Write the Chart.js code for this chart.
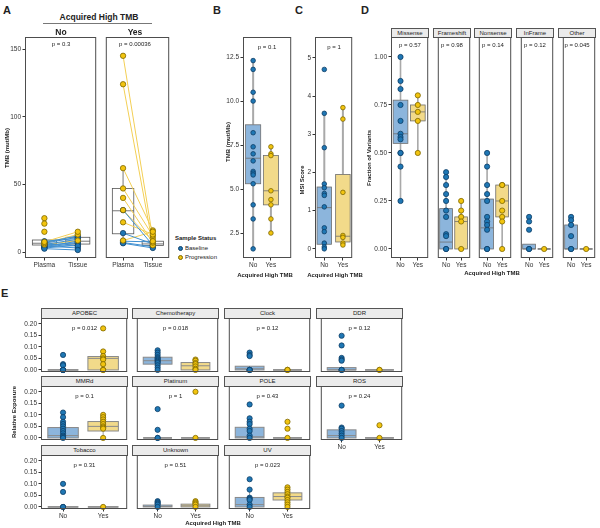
<!DOCTYPE html>
<html>
<head>
<meta charset="utf-8">
<script src="https://cdn.jsdelivr.net/npm/chart.js@4.4.0/dist/chart.umd.min.js"></script>
<style>
  body { margin: 0; background: #fff; }
  #root { position: relative; width: 600px; height: 528px; overflow: hidden; font-family: 'Liberation Sans', Arial, sans-serif; color: #222; }
  canvas { position: absolute; }
  .t { position: absolute; white-space: nowrap; line-height: 1; }
  .c { transform: translate(-50%, -50%); }
  .rot { transform: translate(-50%, -50%) rotate(-90deg); }
  .strip { position: absolute; box-sizing: border-box; background: #ebebeb; border: 1px solid #555; font-size: 6px; text-align: center; color: #222; }
</style>
</head>
<body>
<div id="root"></div>
<script>
// ---- data ----
const groups = ['No', 'Yes'];
const sampleTypes = ['Plasma', 'Tissue'];

// A: paired TMB, plasma -> tissue, status B = Baseline, P = Progression
const aNoPlasma = [3.0, 3.5, 4.0, 4.5, 5.0, 5.5, 6.0, 6.5, 7.0, 2.5, 8.0, 5.5, 6.5, 7.5, 25, 21, 15];
const aNoTissue = [5.0, 6.5, 8.0, 3.0, 7.0, 9.5, 4.5, 11, 12, 1.5, 10, 8.5, 13, 15, null, null, null];
const aNoStatus = ['B', 'B', 'B', 'B', 'B', 'B', 'B', 'B', 'B', 'B', 'B', 'P', 'P', 'P', 'P', 'P', 'P'];
const aYesPlasma = [31, 14, 8, 7, 6.5, 145, 124, 62, 47, 40, 31, 22, 8.5];
const aYesTissue = [5, 6, 7.5, 4, 3, 10, 5, 16, 12, 7, 8, 13, 15];
const aYesStatus = ['B', 'B', 'B', 'B', 'B', 'P', 'P', 'P', 'P', 'P', 'P', 'P', 'P'];
// box stats [lo, q1, median, q3, hi] for plasma, tissue
const aNoBox = [[2.5, 5.2, 6.5, 8.9, 8.9], [1.5, 5.9, 8, 10.9, 15]];
const aYesBox = [[6.5, 13.5, 30.5, 47, 62], [3, 4.8, 6, 8, 13]];
const aPvals = ['p = 0.3', 'p = 0.00036'];
const aTicks = [0, 50, 100, 150];
const aTickLabels = ['0', '50', '100', '150'];

// B: TMB by acquired high TMB
const bNo = [12.3, 11.8, 10.5, 10.0, 8.2, 7.4, 7.0, 6.6, 6.0, 5.9, 5.8, 5.3, 4.1, 3.3, 1.6];
const bYes = [7.4, 7.0, 6.9, 4.9, 4.4, 4.1, 3.3, 2.5];
const bBox = [[1.6, 5.3, 6.75, 8.65, 12.3], [2.5, 4.1, 4.9, 6.9, 7.4]];
const bP = 'p = 0.1';
const bTicks = [2.5, 5, 7.5, 10, 12.5];
const bTickLabels = ['2.5', '5.0', '7.5', '10.0', '12.5'];

// C: MSI score
const cNo = [4.7, 3.55, 2.65, 1.7, 1.6, 1.45, 1.4, 1.1, 0.55, 0.45, 0.15, 0.05, 0.0];
const cYes = [3.7, 3.4, 1.48, 0.35, 0.3, 0.15, 0.1];
const cBox = [[0, 0.12, 1.08, 1.62, 3.55], [0.1, 0.18, 0.33, 1.95, 3.7]];
const cP = 'p = 1';
const cTicks = [0, 1, 2, 3, 4, 5];
const cTickLabels = ['0', '1', '2', '3', '4', '5'];

// D: fraction of variants by type
const dTypes = ['Missense', 'Frameshift', 'Nonsense', 'InFrame', 'Other'];
const dPvals = ['p = 0.57', 'p = 0.98', 'p = 0.14', 'p = 0.12', 'p = 0.045'];
const dNo = [
  [1.0, 0.875, 0.833, 0.75, 0.667, 0.6, 0.583, 0.571, 0.5, 0.5, 0.429, 0.25],
  [0.4, 0.375, 0.333, 0.286, 0.25, 0.2, 0.167, 0.077, 0.067, 0, 0],
  [0.5, 0.429, 0.333, 0.286, 0.25, 0.167, 0.143, 0.125, 0.1, 0, 0],
  [0.167, 0.143, 0.1, 0, 0],
  [0.167, 0.15, 0.125, 0.067, 0, 0]
];
const dYes = [
  [0.8, 0.75, 0.714, 0.667, 0.5],
  [0.25, 0.2, 0.167, 0.143, 0],
  [0.333, 0.333, 0.25, 0.2, 0.167, 0.143, 0],
  [0],
  [0]
];
const dBoxNo = [[0.25, 0.55, 0.6, 0.775, 1.0], [0, 0, 0.036, 0.21, 0.4], [0, 0, 0.11, 0.26, 0.5], [0, 0, 0, 0.025, 0.025], [0, 0, 0, 0.125, 0.167]];
const dBoxYes = [[0.5, 0.667, 0.714, 0.75, 0.8], [0, 0, 0.143, 0.167, 0.25], [0, 0.167, 0.25, 0.333, 0.333], [0, 0, 0, 0, 0], [0, 0, 0, 0, 0]];
const dTicks = [0, 0.25, 0.5, 0.75, 1.0];
const dTickLabels = ['0.00', '0.25', '0.50', '0.75', '1.00'];

// E: relative exposure of mutational signatures
const eSigs = ['APOBEC', 'Chemotherapy', 'Clock', 'DDR', 'MMRd', 'Platinum', 'POLE', 'ROS', 'Tobacco', 'Unknown', 'UV'];
const ePvals = ['p = 0.012', 'p = 0.018', 'p = 0.12', 'p = 0.12', 'p = 0.1', 'p = 1', 'p = 0.43', 'p = 0.24', 'p = 0.31', 'p = 0.51', 'p = 0.023'];
const eNo = [
  [0.065, 0.025, 0.02, 0, 0, 0, 0, 0],
  [0.085, 0.075, 0.065, 0.055, 0.05, 0.045, 0.04, 0.035, 0.03, 0.02, 0.01, 0],
  [0.075, 0.065, 0.06, 0, 0, 0, 0],
  [0.148, 0.106, 0.052, 0.045, 0.04, 0, 0, 0],
  [0.11, 0.09, 0.07, 0.06, 0.05, 0.04, 0.03, 0.02, 0.01, 0.005, 0],
  [0.125, 0.035, 0, 0],
  [0.145, 0.085, 0.07, 0.06, 0.04, 0.03, 0.01, 0],
  [0.14, 0.045, 0.04, 0.03, 0.02, 0.01, 0],
  [0.1, 0.065, 0, 0],
  [0.025, 0.02, 0.015, 0.01, 0],
  [0.12, 0.075, 0.04, 0.035, 0.03, 0.01, 0]
];
const eYes = [
  [0.18, 0.08, 0.06, 0.05, 0.045, 0.025, 0, 0],
  [0.045, 0.04, 0.03, 0.025, 0.015, 0.005, 0],
  [0, 0, 0],
  [0, 0],
  [0.1, 0.09, 0.08, 0.07, 0.06, 0.05, 0.045, 0.04, 0],
  [0.2, 0],
  [0.07, 0.04, 0],
  [0.055, 0],
  [0],
  [0.025, 0.02, 0.015, 0.01, 0],
  [0.085, 0.075, 0.065, 0.055, 0.045, 0.04, 0.03, 0.02, 0.01, 0]
];
const eBoxNo = [
  [0, 0, 0, 0, 0], [0, 0.025, 0.04, 0.055, 0.085], [0, 0, 0.005, 0.016, 0.016], [0, 0, 0, 0.01, 0.01],
  [0, 0, 0.01, 0.045, 0.11], [0, 0, 0, 0, 0], [0, 0, 0.005, 0.046, 0.085], [0, 0, 0.01, 0.035, 0.045],
  [0, 0, 0, 0, 0], [0, 0, 0.002, 0.008, 0.02], [0, 0, 0.01, 0.041, 0.075]
];
const eBoxYes = [
  [0, 0, 0.05, 0.058, 0.08], [0, 0, 0.018, 0.032, 0.045], [0, 0, 0, 0, 0], [0, 0, 0, 0, 0],
  [0, 0.03, 0.05, 0.071, 0.1], [0, 0, 0, 0, 0], [0, 0, 0, 0, 0], [0, 0, 0, 0, 0],
  [0, 0, 0, 0, 0], [0, 0, 0.005, 0.012, 0.025], [0, 0.03, 0.045, 0.061, 0.085]
];
const eTicks = [0, 0.05, 0.1, 0.15, 0.2];
const eTickLabels = ['0.00', '0.05', '0.10', '0.15', '0.20'];

// ---- styles ----
const FONT = "'Liberation Sans', Arial, sans-serif";
Chart.defaults.font.family = FONT;
const BLUE = '#1f77b4', BLUE_EDGE = '#0e3d66', YEL = '#f2c40f', YEL_EDGE = '#7d6700';
const BLUE_BOX = '#8cb5dc', YEL_BOX = '#f2da8a';
const root = document.getElementById('root');

function text(x, y, s, css, cls) {
  const d = document.createElement('div');
  d.className = 't ' + (cls || 'c');
  d.style.left = x + 'px';
  d.style.top = y + 'px';
  d.style.cssText += css || '';
  d.textContent = s;
  root.appendChild(d);
  return d;
}

function strip(l, t, w, h, s) {
  const d = document.createElement('div');
  d.className = 'strip';
  d.style.cssText += `left:${l}px;top:${t}px;width:${w}px;height:${h}px;line-height:${h - 2}px;`;
  d.textContent = s;
  root.appendChild(d);
}

// box settings live on the canvas so Chart.js does not resolve them as options
const boxPlugin = {
  id: 'boxes',
  beforeDatasetsDraw(chart) {
    const o = chart.canvas.boxSpec;
    if (!o) return;
    const { ctx, scales: { x, y } } = chart;
    ctx.save();
    o.items.forEach(it => {
      const [lo, q1, med, q3, hi] = it.stats;
      const cx = x.getPixelForValue(it.x);
      const x0 = x.getPixelForValue(it.x - o.width / 2);
      const x1 = x.getPixelForValue(it.x + o.width / 2);
      ctx.strokeStyle = o.whisker;
      ctx.lineWidth = o.whiskerWidth;
      ctx.beginPath();
      ctx.moveTo(cx, y.getPixelForValue(hi)); ctx.lineTo(cx, y.getPixelForValue(q3));
      ctx.moveTo(cx, y.getPixelForValue(q1)); ctx.lineTo(cx, y.getPixelForValue(lo));
      ctx.stroke();
      const top = y.getPixelForValue(q3), bot = y.getPixelForValue(q1);
      if (it.color) { ctx.fillStyle = it.color; ctx.fillRect(x0, top, x1 - x0, bot - top); }
      ctx.strokeStyle = o.edge;
      ctx.lineWidth = o.edgeWidth;
      ctx.strokeRect(x0, top, x1 - x0, bot - top);
      const ym = y.getPixelForValue(med);
      ctx.beginPath(); ctx.moveTo(x0, ym); ctx.lineTo(x1, ym); ctx.stroke();
    });
    ctx.restore();
  },
  afterDraw(chart) {
    const { ctx, chartArea: a } = chart;
    ctx.save();
    ctx.strokeStyle = '#4d4d4d';
    ctx.lineWidth = 1;
    ctx.strokeRect(a.left + 0.5, a.top + 0.5, a.right - a.left - 1, a.bottom - a.top - 1);
    ctx.restore();
  }
};

// one facet = one chart; rect is the plot area [left, top, right, bottom] in page px
function facet(rect, o) {
  const [l, t, r, b] = rect;
  const yW = o.yTicks ? 26 : 0, xH = o.xLabels ? 10 : 0;
  const padT = 6, padR = 4, padB = 5;
  const W = r - l + yW + padR, H = b - t + padT + xH + padB;
  const cv = document.createElement('canvas');
  cv.width = W; cv.height = H;
  cv.style.left = (l - yW) + 'px';
  cv.style.top = (t - padT) + 'px';
  cv.boxSpec = o.boxes;
  root.appendChild(cv);
  const tickFont = { family: FONT, size: 6.5 };
  new Chart(cv, {
    type: 'scatter',
    data: { datasets: o.datasets },
    options: {
      responsive: false, animation: false, devicePixelRatio: 1,
      events: [],
      layout: { padding: { top: padT, right: padR, bottom: padB, left: 0 } },
      plugins: { legend: { display: false }, tooltip: { enabled: false } },
      scales: {
        x: {
          type: 'linear', min: o.xRange[0], max: o.xRange[1],
          border: { display: false },
          grid: { display: !!o.xLabels, drawOnChartArea: false, tickLength: 2.5, color: '#333' },
          ticks: { display: !!o.xLabels, padding: 1, color: '#333', font: tickFont, autoSkip: false, maxRotation: 0,
                   callback: (v, i) => (o.xLabels ? o.xLabels[i] : '') },
          afterBuildTicks: s => { s.ticks = [1, 2].map(v => ({ value: v })); },
          afterFit: s => { s.height = xH; s.paddingLeft = 0; s.paddingRight = 0; }
        },
        y: {
          type: 'linear', min: o.yRange[0], max: o.yRange[1],
          border: { display: false },
          grid: { display: !!o.yTicks, drawOnChartArea: false, tickLength: 2.5, color: '#333' },
          ticks: { display: !!o.yTicks, padding: 1.5, color: '#333', font: tickFont, autoSkip: false,
                   callback: (v, i) => (o.yTickLabels ? o.yTickLabels[i] : '') },
          afterBuildTicks: s => { s.ticks = (o.yTicks || []).map(v => ({ value: v })); },
          afterFit: s => { s.width = yW; s.paddingTop = 0; s.paddingBottom = 0; }
        }
      }
    },
    plugins: [boxPlugin]
  });
}

function dots(values, xv, fill, edge, r) {
  return {
    data: values.map(v => ({ x: xv, y: v })),
    pointRadius: r, pointBackgroundColor: fill, pointBorderColor: edge, pointBorderWidth: 0.8,
    clip: false, order: 0
  };
}

function groupSet(no, yes, r) {
  return [dots(no, 1, BLUE, BLUE_EDGE, r), dots(yes, 2, YEL, YEL_EDGE, r)];
}

// ---- panel letters ----
text(3, 5, 'A', 'font-size:11px;font-weight:bold;', 'l');
text(213, 5, 'B', 'font-size:11px;font-weight:bold;', 'l');
text(295, 5, 'C', 'font-size:11px;font-weight:bold;', 'l');
text(361, 5, 'D', 'font-size:11px;font-weight:bold;', 'l');
text(1, 288, 'E', 'font-size:11px;font-weight:bold;', 'l');

// ---- A ----
const aRange = [-4.4, 158.9];
const aX = [0.42, 2.55];
const statusCol = s => (s === 'B' ? [BLUE, BLUE_EDGE, '#3f8fd0'] : [YEL, YEL_EDGE, '#f3cf55']);
function pairedSets(plasma, tissue, status) {
  const sets = [];
  plasma.forEach((p, i) => {
    if (tissue[i] == null) return;
    sets.push({ data: [{ x: 1, y: p }, { x: 2, y: tissue[i] }], showLine: true, pointRadius: 0,
                borderColor: statusCol(status[i])[2], borderWidth: 1, clip: false, order: 1 });
  });
  const pts = [];
  plasma.forEach((p, i) => pts.push({ x: 1, y: p, s: status[i] }));
  tissue.forEach((t, i) => { if (t != null) pts.push({ x: 2, y: t, s: status[i] }); });
  sets.push({ data: pts.map(p => ({ x: p.x, y: p.y })), pointRadius: 2.7,
              pointBackgroundColor: pts.map(p => statusCol(p.s)[0]),
              pointBorderColor: pts.map(p => statusCol(p.s)[1]), pointBorderWidth: 0.8, clip: false, order: 0 });
  return sets;
}
const aBoxOpts = (box) => ({ width: 0.72, whisker: '#555', whiskerWidth: 0.8, edge: '#555', edgeWidth: 0.8,
  items: box.map((s, i) => ({ x: i + 1, stats: s })) });

facet([25, 37, 97, 258], { xRange: aX, yRange: aRange, yTicks: aTicks, yTickLabels: aTickLabels, xLabels: sampleTypes,
  datasets: pairedSets(aNoPlasma, aNoTissue, aNoStatus), boxes: aBoxOpts(aNoBox) });
facet([101, 37, 170, 258], { xRange: aX, yRange: aRange, xLabels: sampleTypes,
  datasets: pairedSets(aYesPlasma, aYesTissue, aYesStatus), boxes: aBoxOpts(aYesBox) });

text(99, 17, 'Acquired High TMB', 'font-size:8.5px;font-weight:bold;');
const rule = document.createElement('div');
rule.style.cssText = 'position:absolute;left:43px;top:23px;width:109px;height:1px;background:#777;';
root.appendChild(rule);
text(61, 32, groups[0], 'font-size:8.5px;font-weight:bold;');
text(135, 32, groups[1], 'font-size:8.5px;font-weight:bold;');
text(61, 44, aPvals[0], 'font-size:6px;');
text(135, 44, aPvals[1], 'font-size:6px;');
text(7, 148, 'TMB (mut/Mb)', 'font-size:6px;font-weight:bold;', 'rot');

// legend
text(175, 235, 'Sample Status', 'font-size:6px;font-weight:bold;', 'l');
[['Baseline', BLUE, BLUE_EDGE, 248], ['Progression', YEL, YEL_EDGE, 257]].forEach(([s, f, e, y]) => {
  const d = document.createElement('div');
  d.style.cssText = `position:absolute;left:177.5px;top:${y - 2.5}px;width:5px;height:5px;border-radius:50%;box-sizing:border-box;background:${f};border:0.8px solid ${e};`;
  root.appendChild(d);
  text(185, y - 3.5, s, 'font-size:6px;', 'l');
});

// ---- B ----
facet([243, 37, 292, 258], { xRange: [0.43, 3.14], yRange: [1.08, 13.64], yTicks: bTicks, yTickLabels: bTickLabels, xLabels: groups,
  datasets: groupSet(bNo, bYes, 2.3),
  boxes: { width: 0.85, whisker: '#a9a9a9', whiskerWidth: 2, edge: '#6e6e6e', edgeWidth: 0.8,
           items: [{ x: 1, stats: bBox[0], color: BLUE_BOX }, { x: 2, stats: bBox[1], color: YEL_BOX }] } });
text(267, 47, bP, 'font-size:6px;');
text(265, 275, 'Acquired High TMB', 'font-size:6px;font-weight:bold;');
text(228, 142, 'TMB (mut/Mb)', 'font-size:6px;font-weight:bold;', 'rot');

// ---- C ----
facet([315, 37, 353, 258], { xRange: [0.5, 2.5], yRange: [-0.24, 5.55], yTicks: cTicks, yTickLabels: cTickLabels, xLabels: groups,
  datasets: groupSet(cNo, cYes, 2.3),
  boxes: { width: 0.78, whisker: '#a9a9a9', whiskerWidth: 2, edge: '#6e6e6e', edgeWidth: 0.8,
           items: [{ x: 1, stats: cBox[0], color: BLUE_BOX }, { x: 2, stats: cBox[1], color: YEL_BOX }] } });
text(334, 47, cP, 'font-size:6px;');
text(335, 275, 'Acquired High TMB', 'font-size:6px;font-weight:bold;');
text(302, 180, 'MSI Score', 'font-size:6px;font-weight:bold;', 'rot');

// ---- D ----
const dLeft = [391, 433, 474, 516, 558];
dTypes.forEach((name, i) => {
  const l = dLeft[i], r = l + 38;
  strip(l, 28, 38, 10, name);
  facet([l, 37, r, 258], { xRange: [0.45, 2.6], yRange: [-0.047, 1.104], xLabels: groups,
    yTicks: i === 0 ? dTicks : null, yTickLabels: dTickLabels,
    datasets: groupSet(dNo[i], dYes[i], 2.6),
    boxes: { width: 0.85, whisker: '#a9a9a9', whiskerWidth: 1.6, edge: '#6e6e6e', edgeWidth: 0.8,
             items: [{ x: 1, stats: dBoxNo[i], color: BLUE_BOX }, { x: 2, stats: dBoxYes[i], color: YEL_BOX }] } });
  text((l + r) / 2, 45, dPvals[i], 'font-size:6px;');
});
text(492, 273, 'Acquired High TMB', 'font-size:6px;font-weight:bold;');
text(369, 158, 'Fraction of Variants', 'font-size:6px;font-weight:bold;', 'rot');

// ---- E ----
const eColLeft = [41, 132, 224, 316];
const eRowTop = [308, 376, 445];
const eW = 87, eStripH = 10, eH = 54;
eSigs.forEach((name, i) => {
  const col = i % 4, row = Math.floor(i / 4);
  const l = eColLeft[col], t = eRowTop[row] + eStripH, r = l + eW, b = t + eH;
  strip(l, eRowTop[row], eW, eStripH + 1, name);
  facet([l, t, r, b], { xRange: [0.45, 2.6], yRange: [-0.009, 0.225],
    xLabels: (row === 2 || i === 7) ? groups : null,
    yTicks: col === 0 ? eTicks : null, yTickLabels: eTickLabels,
    datasets: groupSet(eNo[i], eYes[i], 2.6),
    boxes: { width: 0.76, whisker: '#a0a0a0', whiskerWidth: 1, edge: '#8a8a8a', edgeWidth: 1,
             items: [{ x: 1, stats: eBoxNo[i], color: BLUE_BOX }, { x: 2, stats: eBoxYes[i], color: YEL_BOX }] } });
  text((l + r) / 2, t + 10, ePvals[i], 'font-size:6px;');
});
text(213, 523, 'Acquired High TMB', 'font-size:6px;font-weight:bold;');
text(14, 412, 'Relative Exposure', 'font-size:6px;font-weight:bold;', 'rot');
</script>
</body>
</html>
